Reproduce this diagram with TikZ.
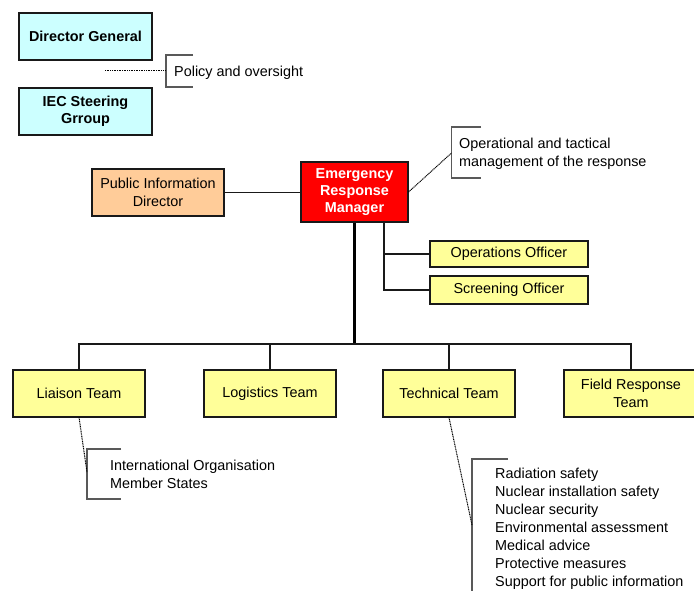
\documentclass[tikz,border=0pt]{standalone}
\usepackage{fontspec}
\setmainfont{Liberation Sans}
\definecolor{govfill}{HTML}{CCFFFF}
\definecolor{teamfill}{HTML}{FFFF99}
\definecolor{infofill}{HTML}{FFCC99}
\definecolor{ermfill}{HTML}{FF0000}
\begin{document}
\begin{tikzpicture}[x=1pt,y=-1pt,
  every node/.style={font=\fontsize{14.4}{17.6}\selectfont, inner sep=0pt},
  box/.style={draw=black!90, line width=1.1pt, align=center, minimum height=47pt},
  cyanbox/.style={box, fill=govfill, font=\fontsize{14.4}{17.2}\selectfont\bfseries, minimum width=133pt},
  yelbox/.style={box, fill=teamfill, minimum width=132pt},
  offbox/.style={box, fill=teamfill, minimum width=158pt},
  link/.style={draw=black!90, line width=1.3pt},
  trunk/.style={draw=black, line width=2.4pt},
  note/.style={draw=black, line width=1pt, dash pattern=on 1pt off 0.7pt},
  bracket/.style={draw=black!65, line width=1.4pt},
  memo/.style={anchor=west, align=left}]
\useasboundingbox (0,0) rectangle (694,591);

% governance level
\node[cyanbox] (dg) at (85.5,36.5) {Director General};
\node[cyanbox] (iec) at (85.5,111.5) {IEC Steering\\Grroup};

% command level
\node[box, fill=infofill, minimum width=132pt] (pid) at (158,192.5) {Public Information\\Director};
\node[box, fill=ermfill, text=white, font=\fontsize{14.4}{17.4}\selectfont\bfseries,
      minimum width=107pt, minimum height=60pt] (erm) at (354.5,192) {Emergency\\Response\\Manager};
\node[offbox, minimum height=26pt] (ops) at (509,254) {Operations Officer};
\node[offbox, minimum height=28pt] (scr) at (509,290) {Screening Officer};

% teams
\node[yelbox] (liaison) at (79,393.5) {Liaison Team};
\node[yelbox] (logistics) at (270,393.5) {Logistics Team};
\node[yelbox] (technical) at (449,393.5) {Technical Team};
\node[yelbox, minimum width=134pt] (field) at (631,393.5) {Field Response\\Team};

% annotations
\node[memo] (pol) at (174,72.5) {Policy and oversight};
\node[memo] (opn) at (459,154) {Operational and tactical\\management of the response};
\node[memo] (lia) at (110,474.5) {International Organisation\\Member States};
\node[memo, font=\fontsize{14.4}{18}\selectfont] (tec) at (495,529)
  {Radiation safety\\Nuclear installation safety\\Nuclear security\\Environmental assessment\\Medical advice\\Protective measures\\Support for public information};

% reporting lines
\coordinate (bus) at (354.5,344);
\coordinate (tap) at (384,222);
\path[link] (pid.east) -- (pid.east -| erm.west);
\path[trunk] (erm.south) -- (bus);
\path[link] (liaison.north) |- (bus) -| (field.north);
\path[link] (logistics.north) -- (logistics.north |- bus);
\path[link] (technical.north) -- (technical.north |- bus);
\path[link] (tap) |- (ops.west);
\path[link] (tap) |- (scr.west);

% brackets around the annotations
\path[bracket] (193,55) -- (166,55) -- (166,87) -- (193,87);
\path[bracket] (481,127) -- (451.5,127) -- (451.5,178) -- (481,178);
\path[bracket] (121,449) -- (87,449) -- (87,499) -- (121,499);
\path[bracket] (508,459) -- (472,459) -- (472,594);

% dotted leaders to the brackets
\coordinate (polstart) at (105,71);
\coordinate (polend) at (166,71);
\coordinate (opnend) at (451.5,153);
\coordinate (liaend) at (87,472);
\coordinate (tecend) at (472,525);
\path[note] (polstart) -- (polend);
\path[note] (erm.east) -- (opnend);
\path[note] (liaison.south) -- (liaend);
\path[note] (technical.south) -- (tecend);
\end{tikzpicture}
\end{document}
